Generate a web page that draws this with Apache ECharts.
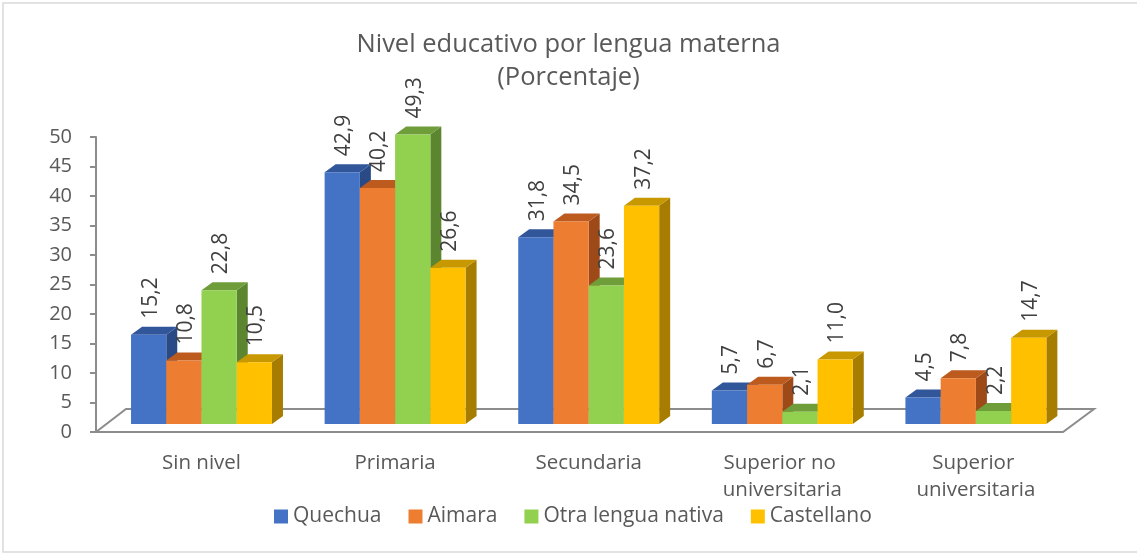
<!DOCTYPE html>
<html>
<head>
<meta charset="utf-8">
<title>Nivel educativo por lengua materna</title>
<script src="https://cdn.jsdelivr.net/npm/echarts@6/dist/echarts.min.js"></script>
<style>
  html, body { margin: 0; padding: 0; background: #fff; }
  #chart { width: 1137px; height: 554px; }
</style>
</head>
<body>
<div id="chart"></div>
<script>
// Data
const categories = ['Sin nivel', 'Primaria', 'Secundaria', 'Superior no universitaria', 'Superior universitaria'];
const quechua = [15.2, 42.9, 31.8, 5.7, 4.5];
const aimara = [10.8, 40.2, 34.5, 6.7, 7.8];
const otraLengua = [22.8, 49.3, 23.6, 2.1, 2.2];
const castellano = [10.5, 26.6, 37.2, 11.0, 14.7];
const seriesNames = ['Quechua', 'Aimara', 'Otra lengua nativa', 'Castellano'];
const yMin = 0, yMax = 50, yStep = 5;

const FONT = 'Open Sans';
const frontColors = ['#4472C4', '#ED7D31', '#92D050', '#FFC000'];
const topColors = ['#31569a', '#bd5a1e', '#6e9d3a', '#c79800'];
const sideColors = ['#2a4a86', '#9e4a18', '#5b862f', '#a67d00'];

const chart = echarts.init(document.getElementById('chart'));

function fmt(v) {
  return v.toFixed(1).replace('.', ',');
}

// 3D-looking column: front face, top face and right side face
function makeRenderer(idx) {
  return function (params, api) {
    const cat = api.value(0);
    const val = api.value(1);
    const base = api.coord([cat, 0]);
    const top = api.coord([cat, val]);
    const band = api.size([1, 0])[0];
    const bw = band * 0.182;
    const x0 = base[0] - 2 * bw + idx * bw;
    const yt = top[1], yb = base[1];
    const dx = 11, dy = 8;
    return {
      type: 'group',
      children: [
        {
          type: 'polygon',
          shape: { points: [[x0 + bw, yt], [x0 + bw + dx, yt - dy], [x0 + bw + dx, yb - dy], [x0 + bw, yb]] },
          style: { fill: sideColors[idx] }
        },
        {
          type: 'polygon',
          shape: { points: [[x0, yt], [x0 + bw, yt], [x0 + bw + dx, yt - dy], [x0 + dx, yt - dy]] },
          style: { fill: topColors[idx] }
        },
        {
          type: 'rect',
          shape: { x: x0, y: yt, width: bw, height: yb - yt },
          style: { fill: frontColors[idx] }
        },
        {
          type: 'text',
          x: x0 + bw / 2 + 2,
          y: yt - 16,
          rotation: Math.PI / 2,
          style: {
            text: fmt(val),
            align: 'left',
            verticalAlign: 'middle',
            fill: '#404040',
            font: '21px "' + FONT + '"'
          }
        }
      ]
    };
  };
}

const allData = [quechua, aimara, otraLengua, castellano];

const option = {
  animation: false,
  color: frontColors,
  title: {
    text: 'Nivel educativo por lengua materna\n(Porcentaje)',
    left: 'center',
    top: 28,
    padding: 0,
    textStyle: { fontFamily: FONT, fontSize: 25.5, fontWeight: 'normal', color: '#595959', lineHeight: 33 }
  },
  legend: {
    data: seriesNames,
    left: 274,
    top: 506,
    padding: 0,
    itemWidth: 14,
    itemHeight: 14,
    itemGap: 27,
    icon: 'rect',
    textStyle: { fontFamily: FONT, fontSize: 21, color: '#595959' }
  },
  graphic: [
    {
      type: 'rect',
      shape: { x: 3, y: 3, width: 1145, height: 549 },
      style: { fill: 'none', stroke: '#d9d9d9', lineWidth: 1.5 },
      silent: true
    },
    {
      type: 'polygon',
      shape: { points: [[96, 432], [1063, 432], [1094, 409], [126, 409]] },
      style: { fill: '#fff', stroke: '#8c8c8c', lineWidth: 2 },
      silent: true
    }
  ],
  grid: [
    { left: 96, top: 137, width: 960, height: 295 },
    { left: 104.7, right: 64.3, top: 130.5, height: 293.5 }
  ],
  xAxis: [
    { gridIndex: 0, type: 'category', data: categories, show: false },
    {
      gridIndex: 1,
      type: 'category',
      data: categories,
      axisLine: { show: false },
      axisTick: { show: false },
      axisLabel: {
        margin: 26,
        fontFamily: FONT,
        fontSize: 20.5,
        color: '#595959',
        lineHeight: 27,
        width: 150,
        overflow: 'break',
        interval: 0
      }
    }
  ],
  yAxis: [
    {
      gridIndex: 0,
      type: 'value',
      min: yMin,
      max: yMax,
      interval: yStep,
      axisLine: { show: true, lineStyle: { color: '#8c8c8c', width: 2 } },
      axisTick: { show: true, length: 6, lineStyle: { color: '#8c8c8c', width: 2 } },
      splitLine: { show: false },
      axisLabel: { margin: 24, fontFamily: FONT, fontSize: 20, color: '#595959' }
    },
    { gridIndex: 1, type: 'value', min: yMin, max: yMax, show: false, splitLine: { show: false } }
  ],
  series: seriesNames.map(function (name, i) {
    return {
      name: name,
      type: 'custom',
      xAxisIndex: 1,
      yAxisIndex: 1,
      itemStyle: { color: frontColors[i] },
      renderItem: makeRenderer(i),
      encode: { x: 0, y: 1 },
      data: allData[i].map(function (v, j) { return [j, v]; })
    };
  })
};

chart.setOption(option);
window.addEventListener('resize', function () {
  chart.resize();
});
</script>
</body>
</html>
